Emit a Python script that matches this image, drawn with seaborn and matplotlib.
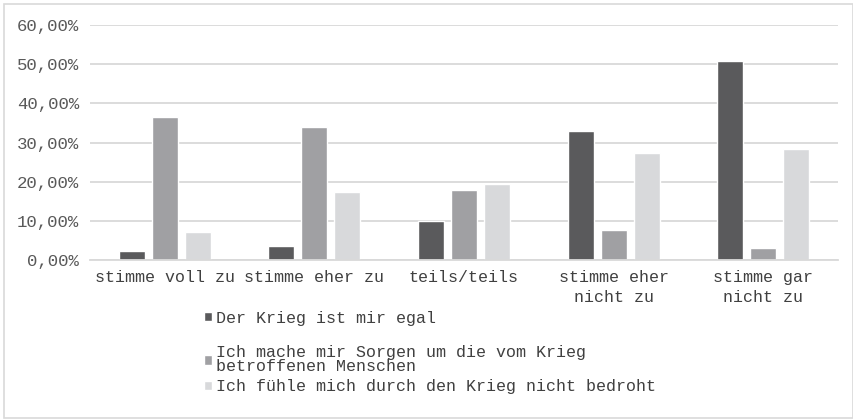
import matplotlib
matplotlib.use("Agg")
import matplotlib.pyplot as plt
from matplotlib.patches import Rectangle
from matplotlib.ticker import FuncFormatter
import pandas as pd
import seaborn as sns

categories = ["stimme voll zu", "stimme eher zu", "teils/teils",
              "stimme eher\nnicht zu", "stimme gar\nnicht zu"]
series_names = ["Der Krieg ist mir egal",
                "Ich mache mir Sorgen um die vom Krieg\nbetroffenen Menschen",
                "Ich fühle mich durch den Krieg nicht bedroht"]
egal = [2.3, 3.5, 9.9, 33.0, 50.8]
sorgen = [36.6, 34.0, 17.9, 7.7, 3.1]
bedroht = [7.1, 17.3, 19.4, 27.3, 28.3]
colors = ["#5a5a5c", "#a0a0a3", "#d8d9db"]

rows = []
for name, vals in zip(series_names, [egal, sorgen, bedroht]):
    for cat, v in zip(categories, vals):
        rows.append({"Kategorie": cat, "Reihe": name, "Wert": v})
df = pd.DataFrame(rows)

sns.set_style("white")
plt.rcParams["font.family"] = ["Liberation Mono", "DejaVu Sans Mono"]

fig = plt.figure(figsize=(8.54, 4.19), dpi=100)
ax = fig.add_axes([90 / 854, 1 - 260 / 419, 748 / 854, 235 / 419])

sns.barplot(data=df, x="Kategorie", y="Wert", hue="Reihe", palette=colors,
            width=0.66, gap=0.21, ax=ax, saturation=1)

ax.set_ylim(0, 60)
ax.set_yticks(range(0, 61, 10))
ax.yaxis.set_major_formatter(FuncFormatter(lambda v, p: f"{v:.2f}%".replace(".", ",")))
ax.grid(axis="y", color="#d9d9d9", linewidth=1.3)
ax.set_axisbelow(True)
for s in ["top", "right", "left"]:
    ax.spines[s].set_visible(False)
ax.spines["bottom"].set_color("#d9d9d9")
ax.spines["bottom"].set_linewidth(1.3)
ax.set_xlabel("")
ax.set_ylabel("")
ax.tick_params(axis="y", labelsize=12.5, colors="#595959", length=0, pad=8)
ax.tick_params(axis="x", labelsize=12, colors="#404040", length=0, pad=7)
for t in ax.get_xticklabels():
    t.set_linespacing(1.45)

handles, labels = ax.get_legend_handles_labels()
ax.get_legend().remove()
leg_kw = dict(frameon=False, fontsize=12, handlelength=0.5, handleheight=0.5,
              handletextpad=0.2, labelcolor="#404040", borderpad=0,
              borderaxespad=0)
fig.legend(handles[:1], labels[:1], loc="center left",
           bbox_to_anchor=(204 / 854, 1 - 318 / 419), **leg_kw)
leg2 = fig.legend(handles[1:], labels[1:], loc="upper left",
                  bbox_to_anchor=(204 / 854, 1 - 345 / 419),
                  labelspacing=0.3, **leg_kw)
for t in leg2.get_texts():
    t.set_linespacing(0.95)

fig.patches.append(Rectangle((4 / 854, 1 / 419), 849 / 854, 414 / 419,
                             transform=fig.transFigure, fill=False,
                             edgecolor="#d9d9d9", linewidth=1.2))

fig.savefig("out.png", dpi=100)
